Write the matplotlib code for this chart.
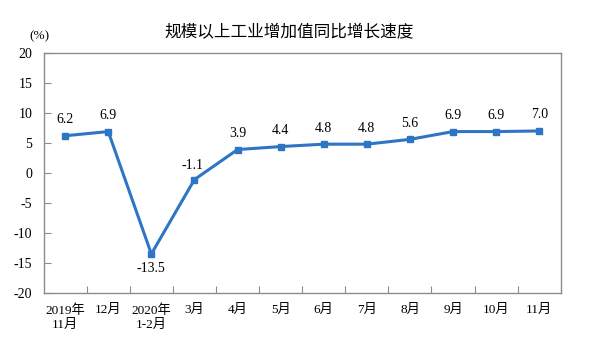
import matplotlib
matplotlib.use("Agg")
import matplotlib.pyplot as plt

categories = ["2019年\n11月", "12月", "2020年\n1-2月", "3月", "4月", "5月",
              "6月", "7月", "8月", "9月", "10月", "11月"]
growth = [6.2, 6.9, -13.5, -1.1, 3.9, 4.4, 4.8, 4.8, 5.6, 6.9, 6.9, 7.0]
yticks = [-20, -15, -10, -5, 0, 5, 10, 15, 20]

serif = ["Liberation Serif", "Noto Sans CJK SC"]
line_color = "#2E75C3"
frame_color = "#8C8C8C"

fig = plt.figure(figsize=(6.03, 3.43), dpi=100)
ax = fig.add_axes([0.0723, 0.146, 0.8577, 0.6995])

x = list(range(len(categories)))
ax.plot(x, growth, color=line_color, lw=2.2, marker="s", ms=4.5,
        markerfacecolor=line_color, markeredgecolor=line_color, zorder=3)

for i, v in enumerate(growth):
    if v < -10:
        ax.text(i, v - 1.4, f"{v:.1f}", ha="center", va="top",
                fontsize=10, family=serif)
    elif v < 0:
        ax.text(i - 0.05, v + 1.3, f"{v:.1f}", ha="center", va="bottom",
                fontsize=10, family=serif)
    else:
        ax.text(i, v + 1.6, f"{v:.1f}", ha="center", va="bottom",
                fontsize=10, family=serif)

ax.set_xlim(-0.5, len(categories) - 0.5)
ax.set_ylim(-20, 20)
ax.set_yticks(yticks)
ax.set_yticklabels([str(t) for t in yticks], family=serif, fontsize=10)

ax.set_xticks([i + 0.5 for i in range(len(categories) - 1)])
ax.set_xticklabels([])
ax.set_xticks(x, minor=True)
ax.set_xticklabels(categories, minor=True, family=serif, fontsize=9.5,
                   linespacing=1.3)
ax.tick_params(axis="x", which="minor", length=0, pad=8)
ax.tick_params(axis="x", which="major", direction="in", length=5,
               color=frame_color)
ax.tick_params(axis="y", direction="in", length=5, color=frame_color, pad=8)

for s in ax.spines.values():
    s.set_color(frame_color)
    s.set_linewidth(1.0)

fig.text(0.48, 0.905, "规模以上工业增加值同比增长速度", ha="center",
         va="center", fontsize=12, family=["Noto Sans CJK SC", "DejaVu Sans"])
fig.text(0.066, 0.895, "(%)", ha="center", va="center", fontsize=9.5,
         family=serif)

fig.savefig("out.png", dpi=100, facecolor="white")
